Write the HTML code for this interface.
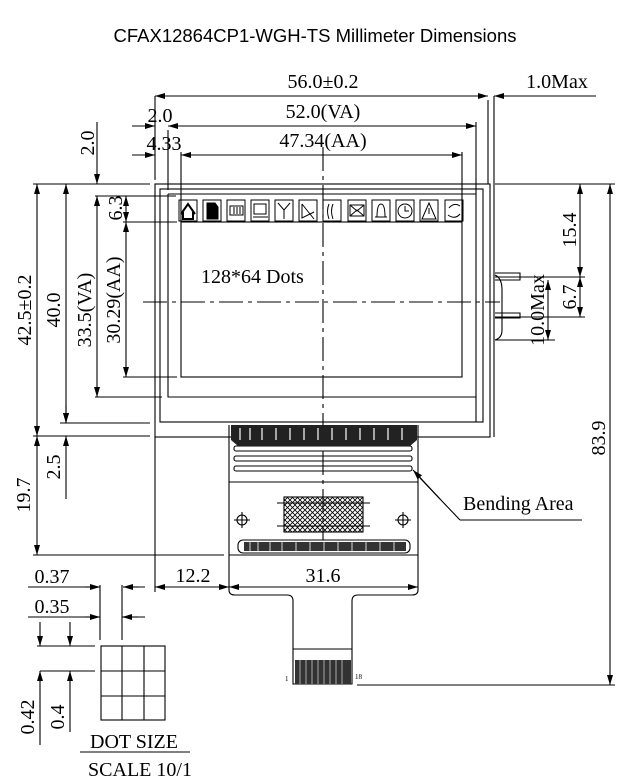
<!DOCTYPE html>
<html><head><meta charset="utf-8"><style>
html,body{margin:0;padding:0;background:#fff;}
svg{display:block;}
text{font-family:"Liberation Serif",serif;fill:#000;}
</style></head><body>
<svg width="630" height="782" viewBox="0 0 630 782" xmlns="http://www.w3.org/2000/svg">
<defs>
<marker id="a" viewBox="0 0 10 6" refX="10" refY="3" markerWidth="10" markerHeight="6" markerUnits="userSpaceOnUse" orient="auto-start-reverse"><path d="M0,0L10,3L0,6z" fill="#000"/></marker>
<pattern id="hatch" width="5" height="5" patternUnits="userSpaceOnUse"><path d="M0,0L5,5M5,0L0,5" stroke="#000" stroke-width="0.8"/></pattern>
</defs>
<text x="315" y="42" text-anchor="middle" style="font-family:'Liberation Sans',sans-serif;font-size:18.5px">CFAX12864CP1-WGH-TS Millimeter Dimensions</text>
<g stroke="#000" stroke-width="1.1" fill="none">
<rect x="155" y="184" width="335" height="253"/>
<rect x="160" y="189" width="323" height="233"/>
<path d="M168,194H476V422M168,194V397H476"/>
<rect x="181" y="222" width="281" height="155"/>
<path d="M494,96V184M488,100V184M494,184V437"/>
<path d="M323,147V540" stroke-dasharray="24,5,4,5"/>
<path d="M143,302H500" stroke-dasharray="24,5,4,5"/>
<path d="M495,273H520V280H495M495,313H520V318H495M495,275Q502,278 502,290V330Q502,338 495,340"/>
<path d="M229,425V590Q229,595 235,595H287Q293,595 293,601V684H352V601Q352,595 358,595H412Q418,595 418,590V425"/>
<path d="M229,482H418M229,555H418M293,649H352"/>
<rect x="234" y="446" width="178" height="5" rx="2"/>
<rect x="234" y="456" width="178" height="5" rx="2"/>
<rect x="234" y="466" width="178" height="5" rx="2"/>
<rect x="284" y="497" width="79" height="35" fill="url(#hatch)"/>
<path d="M277,503H370M277,526H370"/>
<circle cx="242" cy="520" r="5"/><path d="M234,520H250M242,512V528"/>
<circle cx="403" cy="520" r="5"/><path d="M395,520H411M403,512V528"/>
<rect x="238" y="540" width="172" height="13" rx="5"/>
</g>
<path d="M231,425H417V440L410,446H238L231,440Z" fill="#222"/>
<g stroke="#fff" stroke-width="1.2">
<path d="M240,428V440M250,428V440M262,428V440M276,428V440M290,428V440M304,428V440M318,428V440M332,428V440M346,428V440M360,428V440M374,428V440M388,428V440M402,428V440"/>
</g>
<rect x="244" y="542" width="162" height="9" fill="#333"/>
<g stroke="#fff" stroke-width="0.8"><path d="M250,542V551M258,542V551M270,542V551M282,542V551M296,542V551M310,542V551M324,542V551M338,542V551M352,542V551M366,542V551M380,542V551M394,542V551"/></g>
<rect x="295" y="660" width="56" height="24" fill="#333"/>
<g stroke="#aaa" stroke-width="1"><path d="M300,660V684M306,660V684M312,660V684M318,660V684M324,660V684M330,660V684M336,660V684M342,660V684"/></g>
<text x="285" y="681" style="font-size:7px">1</text>
<text x="355" y="679" style="font-size:7px">18</text>
<g stroke="#000" stroke-width="1" fill="none">
<rect x="179" y="200" width="18" height="21"/><rect x="203" y="200" width="18" height="21"/><rect x="227" y="200" width="18" height="21"/><rect x="251" y="200" width="18" height="21"/><rect x="275" y="200" width="18" height="21"/><rect x="299" y="200" width="18" height="21"/><rect x="323" y="200" width="18" height="21"/><rect x="348" y="200" width="18" height="21"/><rect x="372" y="200" width="18" height="21"/><rect x="396" y="200" width="18" height="21"/><rect x="420" y="200" width="18" height="21"/><rect x="445" y="200" width="18" height="21"/>
<path d="M181,214L188,204L195,214M183,212V219H193V212" stroke-width="2"/>
<path d="M207,203H215L218,207V219H207Z" fill="#000"/>
<rect x="230" y="206" width="13" height="9"/><path d="M234,207V214M237,207V214M240,207V214"/>
<rect x="254" y="204" width="12" height="10"/><path d="M253,217H268"/>
<path d="M278,203L284,210L290,203M284,210V219"/>
<path d="M302,204V218L314,212M302,204L314,219"/>
<path d="M329,204Q326,211 329,219M333,204Q330,211 333,219"/>
<rect x="350" y="205" width="14" height="11"/><path d="M350,205L357,211L364,205M350,216L357,210L364,216"/>
<path d="M375,217H387M377,217Q377,204 381,204Q385,204 385,217"/>
<circle cx="405" cy="211" r="7"/><path d="M405,206V211H409"/>
<path d="M429,203L422,219H436Z M429,208V214"/>
<path d="M449,208Q454,202 460,206M460,214Q455,220 448,215"/>
</g>
<g stroke="#000" stroke-width="1.1" fill="none">
<line x1="155" y1="96" x2="488" y2="96" marker-start="url(#a)" marker-end="url(#a)"/>
<path d="M155,96V180"/>
<line x1="520" y1="96" x2="494" y2="96" marker-end="url(#a)"/>
<path d="M520,96H596"/>
<line x1="132" y1="126" x2="155" y2="126" marker-end="url(#a)"/>
<line x1="190" y1="126" x2="168" y2="126" marker-end="url(#a)"/>
<path d="M190,126H476"/>
<line x1="440" y1="126" x2="476" y2="126" marker-end="url(#a)"/>
<path d="M476,122V194M168,130V190"/>
<line x1="132" y1="155" x2="155" y2="155" marker-end="url(#a)"/>
<line x1="200" y1="155" x2="181" y2="155" marker-end="url(#a)"/>
<path d="M200,155H462"/>
<line x1="440" y1="155" x2="462" y2="155" marker-end="url(#a)"/>
<path d="M462,152V222M181,152V222"/>
<path d="M33,184H150M95,196H176M95,397H162M123,222H177M123,377H177M33,436H150M33,555H224M60,423H150"/>
<line x1="37" y1="184" x2="37" y2="436" marker-start="url(#a)" marker-end="url(#a)"/>
<line x1="66" y1="184" x2="66" y2="423" marker-start="url(#a)" marker-end="url(#a)"/>
<line x1="97" y1="196" x2="97" y2="397" marker-start="url(#a)" marker-end="url(#a)"/>
<line x1="126" y1="222" x2="126" y2="377" marker-start="url(#a)" marker-end="url(#a)"/>
<line x1="126" y1="196" x2="126" y2="222" marker-start="url(#a)" marker-end="url(#a)"/>
<line x1="97" y1="122" x2="97" y2="184" marker-end="url(#a)"/>
<line x1="37" y1="436" x2="37" y2="555" marker-start="url(#a)" marker-end="url(#a)"/>
<line x1="66" y1="405" x2="66" y2="423" marker-end="url(#a)"/>
<line x1="66" y1="499" x2="66" y2="436" marker-end="url(#a)"/>
<path d="M155,437V592"/>
<line x1="155" y1="587" x2="229" y2="587" marker-start="url(#a)" marker-end="url(#a)"/>
<line x1="229" y1="587" x2="418" y2="587" marker-start="url(#a)" marker-end="url(#a)"/>
<path d="M495,184H615M495,277H585M495,317H585M495,340H555M357,685H615"/>
<line x1="580" y1="184" x2="580" y2="277" marker-start="url(#a)" marker-end="url(#a)"/>
<line x1="580" y1="277" x2="580" y2="317" marker-start="url(#a)" marker-end="url(#a)"/>
<line x1="548" y1="280" x2="548" y2="340" marker-start="url(#a)" marker-end="url(#a)"/>
<line x1="610" y1="184" x2="610" y2="685" marker-start="url(#a)" marker-end="url(#a)"/>
<path d="M460,520H582M460,520L420,478"/>
<line x1="440" y1="499" x2="413" y2="470" marker-end="url(#a)"/>
<rect x="101" y="646" width="64" height="74"/>
<path d="M122,646V720M144,646V720M101,671H165M101,696H165"/>
<path d="M28,587H90M28,617H90M100,585V640M122,585V640M37,646H95M40,671H95"/>
<line x1="85" y1="587" x2="100" y2="587" marker-end="url(#a)"/>
<line x1="138" y1="587" x2="123" y2="587" marker-end="url(#a)"/>
<path d="M123,587H145"/>
<line x1="85" y1="617" x2="100" y2="617" marker-end="url(#a)"/>
<line x1="138" y1="617" x2="122" y2="617" marker-end="url(#a)"/>
<path d="M122,617H145"/>
<line x1="40" y1="622" x2="40" y2="646" marker-end="url(#a)"/>
<line x1="40" y1="745" x2="40" y2="671" marker-end="url(#a)"/>
<line x1="70" y1="622" x2="70" y2="646" marker-end="url(#a)"/>
<line x1="70" y1="732" x2="70" y2="671" marker-end="url(#a)"/>
<path d="M80,752H190"/>
</g>
<g style="font-size:20px">
<text x="323" y="88" text-anchor="middle">56.0±0.2</text>
<text x="557" y="88" text-anchor="middle">1.0Max</text>
<text x="323" y="118" text-anchor="middle">52.0(VA)</text>
<text x="323" y="147" text-anchor="middle">47.34(AA)</text>
<text x="160" y="122" text-anchor="middle">2.0</text>
<text x="164" y="150" text-anchor="middle">4.33</text>
<text x="201" y="283">128*64 Dots</text>
<text x="193" y="582" text-anchor="middle">12.2</text>
<text x="323" y="582" text-anchor="middle">31.6</text>
<text x="52" y="583" text-anchor="middle">0.37</text>
<text x="52" y="613" text-anchor="middle">0.35</text>
<text x="463" y="510">Bending Area</text>
<text x="134" y="748" text-anchor="middle">DOT SIZE</text>
<text x="140" y="776" text-anchor="middle">SCALE 10/1</text>
<text transform="translate(94,143) rotate(-90)" text-anchor="middle">2.0</text>
<text transform="translate(122,208) rotate(-90)" text-anchor="middle">6.3</text>
<text transform="translate(31,310) rotate(-90)" text-anchor="middle">42.5±0.2</text>
<text transform="translate(60,310) rotate(-90)" text-anchor="middle">40.0</text>
<text transform="translate(91,310) rotate(-90)" text-anchor="middle">33.5(VA)</text>
<text transform="translate(120,300) rotate(-90)" text-anchor="middle">30.29(AA)</text>
<text transform="translate(30,495) rotate(-90)" text-anchor="middle">19.7</text>
<text transform="translate(60,467) rotate(-90)" text-anchor="middle">2.5</text>
<text transform="translate(576,230) rotate(-90)" text-anchor="middle">15.4</text>
<text transform="translate(576,297) rotate(-90)" text-anchor="middle">6.7</text>
<text transform="translate(544,310) rotate(-90)" text-anchor="middle">10.0Max</text>
<text transform="translate(605,438) rotate(-90)" text-anchor="middle">83.9</text>
<text transform="translate(34,717) rotate(-90)" text-anchor="middle">0.42</text>
<text transform="translate(64,717) rotate(-90)" text-anchor="middle">0.4</text>
</g>
</svg>
</body></html>
